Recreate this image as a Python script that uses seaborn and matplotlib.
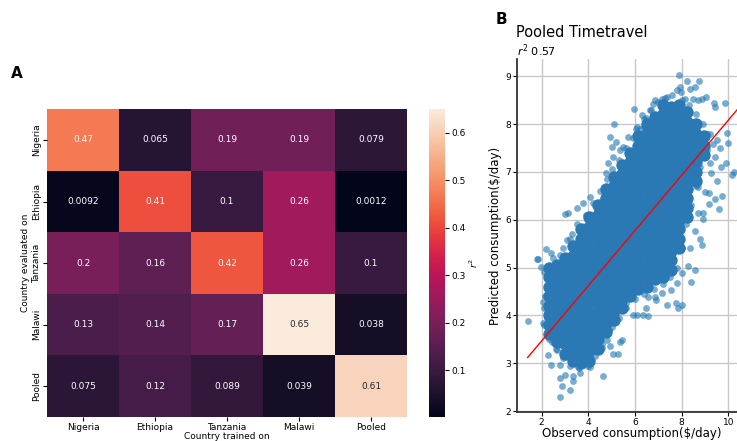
import numpy as np
import pandas as pd
import matplotlib
matplotlib.use("Agg")
import matplotlib.pyplot as plt
import seaborn as sns

OUT_PATH = "out.png"

# ---- panel A: cross-country r^2 ----
countries = ["Nigeria", "Ethiopia", "Tanzania", "Malawi", "Pooled"]
r2_nigeria  = [0.47,   0.065, 0.19,  0.19,  0.079]
r2_ethiopia = [0.0092, 0.41,  0.1,   0.26,  0.0012]
r2_tanzania = [0.2,    0.16,  0.42,  0.26,  0.1]
r2_malawi   = [0.13,   0.14,  0.17,  0.65,  0.038]
r2_pooled   = [0.075,  0.12,  0.089, 0.039, 0.61]

# ---- panel B: pooled timetravel scatter ----
# dense core of the cloud, read column by column
core_x = [2.3, 2.65, 3.0, 3.35, 3.7, 4.05, 4.4, 4.75, 5.1, 5.45,
          5.8, 6.15, 6.5, 6.85, 7.2, 7.55, 7.9, 8.25, 8.6, 8.95]
core_y = [
    [3.6, 3.8, 4.0, 4.2, 4.4, 4.6, 4.8, 5.0],
    [3.45, 3.65, 3.85, 4.05, 4.25, 4.45, 4.65, 4.85, 5.05],
    [3.2, 3.4, 3.6, 3.8, 4.0, 4.2, 4.4, 4.6, 4.8, 5.0, 5.2],
    [3.05, 3.25, 3.45, 3.65, 3.85, 4.05, 4.25, 4.45, 4.65, 4.85, 5.05, 5.25, 5.45],
    [3.0, 3.2, 3.4, 3.6, 3.8, 4.0, 4.2, 4.4, 4.6, 4.8, 5.0, 5.2, 5.4, 5.6, 5.8],
    [3.05, 3.25, 3.45, 3.65, 3.85, 4.05, 4.25, 4.45, 4.65, 4.85, 5.05, 5.25, 5.45, 5.65, 5.85, 6.05],
    [3.3, 3.5, 3.7, 3.9, 4.1, 4.3, 4.5, 4.7, 4.9, 5.1, 5.3, 5.5, 5.7, 5.9, 6.1, 6.3],
    [3.65, 3.85, 4.05, 4.25, 4.45, 4.65, 4.85, 5.05, 5.25, 5.45, 5.65, 5.85, 6.05, 6.25, 6.45, 6.65],
    [3.9, 4.1, 4.3, 4.5, 4.7, 4.9, 5.1, 5.3, 5.5, 5.7, 5.9, 6.1, 6.3, 6.5, 6.7, 6.9],
    [4.15, 4.35, 4.55, 4.75, 4.95, 5.15, 5.35, 5.55, 5.75, 5.95, 6.15, 6.35, 6.55, 6.75, 6.95, 7.15],
    [4.4, 4.6, 4.8, 5.0, 5.2, 5.4, 5.6, 5.8, 6.0, 6.2, 6.4, 6.6, 6.8, 7.0, 7.2, 7.4],
    [4.55, 4.75, 4.95, 5.15, 5.35, 5.55, 5.75, 5.95, 6.15, 6.35, 6.55, 6.75, 6.95, 7.15, 7.35, 7.55, 7.75],
    [4.6, 4.8, 5.0, 5.2, 5.4, 5.6, 5.8, 6.0, 6.2, 6.4, 6.6, 6.8, 7.0, 7.2, 7.4, 7.6, 7.8, 8.0],
    [4.75, 4.95, 5.15, 5.35, 5.55, 5.75, 5.95, 6.15, 6.35, 6.55, 6.75, 6.95, 7.15, 7.35, 7.55, 7.75, 7.95, 8.15],
    [4.8, 5.0, 5.2, 5.4, 5.6, 5.8, 6.0, 6.2, 6.4, 6.6, 6.8, 7.0, 7.2, 7.4, 7.6, 7.8, 8.0, 8.2, 8.4],
    [4.95, 5.15, 5.35, 5.55, 5.75, 5.95, 6.15, 6.35, 6.55, 6.75, 6.95, 7.15, 7.35, 7.55, 7.75, 7.95, 8.15, 8.35],
    [5.4, 5.6, 5.8, 6.0, 6.2, 6.4, 6.6, 6.8, 7.0, 7.2, 7.4, 7.6, 7.8, 8.0, 8.2, 8.4],
    [6.05, 6.25, 6.45, 6.65, 6.85, 7.05, 7.25, 7.45, 7.65, 7.85, 8.05, 8.25],
    [6.8, 7.0, 7.2, 7.4, 7.6, 7.8, 8.0],
    [7.35, 7.55, 7.75],
]

# scattered points around the core (outliers, then the fringe of the core)
outlier_x = [1.4, 1.79, 1.86, 1.96, 2.19, 2.07, 2.07, 2.11, 2.39, 2.29,
             2.29, 2.4, 2.79, 2.79, 2.89, 2.79, 3.0, 3.21, 3.36, 3.33,
             3.64, 4.64, 3.0, 3.5, 3.11, 3.79, 4.07, 4.36, 4.57, 4.76,
             4.86, 4.93, 5.11, 5.0, 5.17, 5.36, 5.97, 6.03, 6.46, 6.4,
             6.79, 7.14, 7.36, 7.87, 8.21, 8.74, 8.57, 7.99, 8.47, 8.86,
             9.03, 9.4, 9.84, 9.41, 9.94, 10.0, 9.89, 10.26, 10.16, 9.7,
             9.64, 9.43, 9.21, 9.24, 9.5, 9.71, 9.6, 9.44, 9.19, 9.19,
             8.93, 8.9, 8.71, 8.56, 8.86, 8.79, 8.36, 8.27, 8.57, 8.39,
             8.0, 7.79, 8.0, 7.86, 7.76, 7.54, 7.36, 7.17, 6.9, 6.86,
             6.57, 6.54, 6.36, 6.07, 5.9, 6.46, 5.6, 5.5, 5.71, 5.14,
             5.43, 5.36, 5.29, 5.07, 4.93, 4.79, 5.0, 4.6, 4.36, 4.07,
             3.57, 2.64, 2.43, 2.21, 2.21, 2.36, 2.57, 2.79, 2.93, 3.07,
             3.29, 3.64, 4.07, 8.71, 8.5, 9.01, 9.07, 9.36, 8.81, 9.21,
             9.53, 5.07, 5.5, 5.71, 6.07, 6.29, 6.64, 6.86, 7.79, 7.93,
             8.36, 8.14, 8.71,
             2.5, 2.9, 3.2, 3.5, 3.9, 4.2, 4.5, 4.8, 5.0, 5.3,
             5.6, 5.9, 6.2, 6.4, 6.7, 7.0, 7.3, 7.6, 8.0, 8.3,
             8.6, 8.9, 9.1, 9.0, 8.8, 8.6, 8.4, 8.2, 8.0, 7.8,
             7.5, 7.2, 6.8, 6.4, 6.0, 5.6, 5.3, 4.9, 4.6, 4.3,
             4.0, 3.6, 3.2, 2.9, 2.6, 2.3, 2.1, 2.15, 2.1]
outlier_y = [3.88, 5.18, 5.18, 5.02, 5.39, 3.85, 4.27, 4.15, 5.3, 4.8,
             3.17, 2.96, 2.96, 2.7, 2.53, 2.3, 2.75, 2.44, 2.73, 2.63,
             2.8, 2.73, 6.11, 6.24, 6.14, 6.34, 6.48, 6.2, 6.38, 6.97,
             7.19, 7.72, 8.0, 7.52, 7.63, 7.45, 8.32, 7.89, 8.12, 7.94,
             8.42, 8.52, 8.57, 9.02, 8.9, 8.9, 8.78, 8.67, 8.53, 8.52,
             8.57, 8.44, 8.44, 8.35, 7.81, 7.6, 7.18, 7.0, 6.93, 7.1,
             7.5, 7.31, 7.18, 6.97, 6.8, 6.49, 6.22, 6.43, 6.56, 6.33,
             6.13, 6.01, 6.13, 5.76, 5.47, 5.59, 5.4, 5.03, 4.95, 4.7,
             4.88, 4.67, 4.22, 4.15, 4.25, 4.53, 4.22, 4.46, 4.32, 4.39,
             4.38, 3.99, 4.01, 4.0, 4.0, 4.15, 4.25, 4.42, 4.53, 3.97,
             3.48, 3.45, 3.2, 3.19, 3.35, 3.48, 3.76, 3.31, 3.31, 2.93,
             2.93, 3.28, 3.45, 3.62, 3.94, 4.46, 5.09, 5.26, 5.05, 5.57,
             5.71, 5.85, 5.99, 6.69, 6.83, 6.58, 7.45, 7.59, 7.8, 7.8,
             7.66, 7.31, 7.52, 7.73, 7.94, 8.19, 8.29, 8.5, 8.71, 8.78,
             8.74, 8.53, 8.5,
             5.2, 5.4, 5.6, 5.9, 6.1, 6.35, 6.6, 6.85, 7.05, 7.25,
             7.5, 7.7, 7.9, 8.1, 8.3, 8.45, 8.55, 8.6, 8.5, 8.4,
             8.2, 8.0, 7.8, 7.4, 7.1, 6.7, 6.3, 5.9, 5.4, 5.0,
             4.8, 4.65, 4.55, 4.45, 4.35, 4.15, 3.95, 3.7, 3.4, 3.15,
             2.95, 2.9, 2.95, 3.1, 3.3, 3.5, 3.8, 4.4, 4.9]

# fitted line as drawn in the original
fit_x = [1.4, 10.4]
fit_y = [3.12, 8.31]
r2_pooled_tt = 0.57


def build_tables():
    heat = pd.DataFrame(
        [r2_nigeria, r2_ethiopia, r2_tanzania, r2_malawi, r2_pooled],
        index=countries, columns=countries,
    )
    core = pd.DataFrame(
        [(x, y) for x, ys in zip(core_x, core_y) for y in ys],
        columns=["observed", "predicted"],
    )
    out = pd.DataFrame({"observed": outlier_x, "predicted": outlier_y})
    return heat, core, out


heat, core, out = build_tables()

plt.rcParams["font.family"] = ["DejaVu Sans"]
fig = plt.figure(figsize=(7.37, 4.41), dpi=100)

# Panel A
ax_h = fig.add_axes([0.0638, 0.0544, 0.4885, 0.698])
cax = fig.add_axes([0.582, 0.0544, 0.0217, 0.698])
sns.heatmap(
    heat, annot=True, fmt=".2g", ax=ax_h, cbar_ax=cax,
    annot_kws={"fontsize": 6.5},
)
ax_h.set_xlabel("Country trained on", fontsize=6.5, labelpad=0)
ax_h.set_ylabel("Country evaluated on", fontsize=6.5, labelpad=1)
ax_h.tick_params(axis="both", labelsize=6.5, length=3, pad=1.5)
plt.setp(ax_h.get_yticklabels(), rotation=90, va="center")
plt.setp(ax_h.get_xticklabels(), rotation=0)
cax.tick_params(labelsize=6.5, length=3, pad=2)
cax.set_ylabel("$r^2$", fontsize=6.5, labelpad=1)
fig.text(0.015, 0.822, "A", fontsize=11, fontweight="bold")

# Panel B
ax_s = fig.add_axes([0.7015, 0.0658, 0.312, 0.80])
ax_s.set_axisbelow(True)
ax_s.grid(True, color="#c8c8c8", linewidth=1.0)
sns.scatterplot(data=out, x="observed", y="predicted", ax=ax_s,
                color="#1f77b4", alpha=0.6, s=24, linewidth=0)
sns.scatterplot(data=core, x="observed", y="predicted", ax=ax_s,
                color="#2a78b4", alpha=1.0, s=80, linewidth=0)
ax_s.plot(fit_x, fit_y, color="red", linewidth=1.0)
ax_s.set_xlim(0.943, 10.8)
ax_s.set_ylim(1.98, 9.355)
ax_s.set_xticks([2, 4, 6, 8, 10])
ax_s.set_yticks([2, 3, 4, 5, 6, 7, 8, 9])
ax_s.tick_params(labelsize=6.5, length=3, pad=1.5)
ax_s.set_xlabel("Observed consumption($/day)", fontsize=8.5, labelpad=0)
ax_s.set_ylabel("Predicted consumption($/day)", fontsize=8.5, labelpad=2)
for side in ["top", "right"]:
    ax_s.spines[side].set_visible(False)
for side in ["left", "bottom"]:
    ax_s.spines[side].set_color("#333333")
    ax_s.spines[side].set_linewidth(1.3)
fig.text(0.7, 0.915, "Pooled Timetravel", fontsize=10.5)
fig.text(0.7015, 0.875, f"$r^2$ {r2_pooled_tt}", fontsize=8)
fig.text(0.672, 0.945, "B", fontsize=11, fontweight="bold")

fig.savefig(OUT_PATH, dpi=100)
plt.close(fig)
